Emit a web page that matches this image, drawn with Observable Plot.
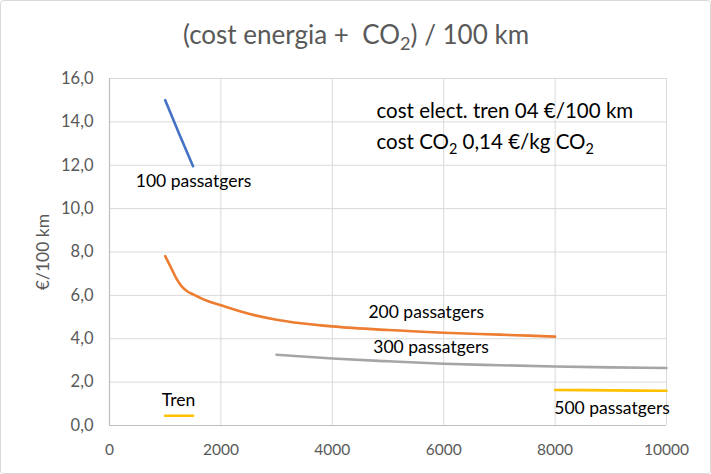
<!DOCTYPE html>
<html>
<head>
<meta charset="utf-8">
<script src="https://cdn.jsdelivr.net/npm/d3@7"></script>
<script src="https://cdn.jsdelivr.net/npm/@observablehq/plot@0.6"></script>
<style>
  body { margin: 0; background: #fff; }
  #chart { width: 711px; height: 474px; }
</style>
</head>
<body>
<div id="chart"></div>
<script>
// ---- data ----
const seriesNames = ["100 passatgers", "200 passatgers", "300 passatgers", "500 passatgers", "Tren"];
const seriesColors = ["#4472C4", "#ED7D31", "#A5A5A5", "#FFC000", "#FFC000"];

const p100X = [1000, 1250, 1500];
const p100Y = [15.0, 13.45, 11.95];

const p200X = [1000, 1100, 1200, 1300, 1400, 1500, 1750, 2000, 2500, 3000, 4000, 5000, 6000, 7000, 8000];
const p200Y = [7.81, 7.3, 6.78, 6.4, 6.18, 6.05, 5.75, 5.54, 5.15, 4.88, 4.57, 4.4, 4.28, 4.19, 4.1];

const p300X = [3000, 4000, 5000, 6000, 7000, 8000, 9000, 10000];
const p300Y = [3.26, 3.09, 2.96, 2.85, 2.78, 2.72, 2.68, 2.65];

const p500X = [8000, 9000, 10000];
const p500Y = [1.64, 1.62, 1.6];

const trenX = [1000, 1500];
const trenY = [0.45, 0.45];

const xTicks = [0, 2000, 4000, 6000, 8000, 10000];
const yTicks = [0, 2, 4, 6, 8, 10, 12, 14, 16];

const titleText = "(cost energia +  CO₂) / 100 km";
const yLabel = "€/100 km";
const noteLines = ["cost elect. tren 04 €/100 km", "cost CO₂ 0,14 €/kg CO₂"];
const noteX = [4793, 4793];
const noteY = [14.5, 13.07];

const labelNames = ["100 passatgers", "200 passatgers", "300 passatgers", "500 passatgers", "Tren"];
const labelX = [1508, 5686, 5772, 9022, 1239];
const labelY = [11.26, 5.23, 3.59, 0.77, 1.15];

// ---- build tables ----
const seriesXs = [p100X, p200X, p300X, p500X, trenX];
const seriesYs = [p100Y, p200Y, p300Y, p500Y, trenY];
const rows = [];
seriesNames.forEach((name, i) => {
  seriesXs[i].forEach((x, j) => rows.push({series: name, x, y: seriesYs[i][j]}));
});
const labels = labelNames.map((t, i) => ({t, x: labelX[i], y: labelY[i]}));
const notes = noteLines.map((t, i) => ({t, x: noteX[i], y: noteY[i]}));

const gridColor = "#d9d9d9";
const textGray = "#595959";

const chart = Plot.plot({
  width: 711,
  height: 474,
  marginLeft: 109,
  marginRight: 45,
  marginTop: 78,
  marginBottom: 49,
  style: {fontFamily: "Lato, 'Open Sans', sans-serif", background: "#fff", overflow: "visible"},
  x: {domain: [0, 10000]},
  y: {domain: [0, 16]},
  color: {domain: seriesNames, range: seriesColors},
  marks: [
    Plot.gridY(yTicks, {stroke: gridColor, strokeOpacity: 1, strokeWidth: 1}),
    Plot.gridX(xTicks, {stroke: gridColor, strokeOpacity: 1, strokeWidth: 1}),
    Plot.ruleY([0], {stroke: "#bfbfbf", strokeWidth: 1.2}),
    Plot.ruleX([0], {stroke: "#bfbfbf", strokeWidth: 1.2}),
    Plot.axisX(xTicks, {tickSize: 0, tickPadding: 18, fontSize: 15.5, color: textGray, label: null, tickFormat: d => String(d)}),
    Plot.axisY(yTicks, {tickSize: 0, tickPadding: 16, fontSize: 16.5, color: textGray, label: null, tickFormat: d => d.toFixed(1).replace(".", ",")}),
    Plot.line(rows, {x: "x", y: "y", z: "series", stroke: "series", strokeWidth: 2.6, curve: "monotone-x"}),
    Plot.text(labels, {x: "x", y: "y", text: "t", fontSize: 17.5, fill: "#000", textAnchor: "middle", lineAnchor: "middle"}),
    Plot.text(notes, {x: "x", y: "y", text: "t", fontSize: 20.5, fill: "#000", textAnchor: "start", lineAnchor: "middle"}),
    Plot.text([titleText], {frameAnchor: "top", dx: -32, dy: -43, fontSize: 26, fill: textGray, textAnchor: "middle", lineAnchor: "middle"}),
    Plot.text([yLabel], {frameAnchor: "left", dx: -66, rotate: -90, fontSize: 17.5, fill: textGray, textAnchor: "middle", lineAnchor: "middle"})
  ]
});

document.getElementById("chart").appendChild(chart);

// subscript rendering for "₂"
d3.select(chart).selectAll("text").each(function() {
  const el = this;
  if (el.querySelector("tspan")) return;
  const s = el.textContent;
  if (!s.includes("₂")) return;
  const parts = s.split("₂");
  el.textContent = "";
  parts.forEach((p, i) => {
    const t = document.createElementNS("http://www.w3.org/2000/svg", "tspan");
    t.textContent = p;
    if (i > 0) t.setAttribute("dy", "-0.245em");
    el.appendChild(t);
    if (i < parts.length - 1) {
      const sub = document.createElementNS("http://www.w3.org/2000/svg", "tspan");
      sub.textContent = "2";
      sub.setAttribute("font-size", "70%");
      sub.setAttribute("dy", "0.35em");
      el.appendChild(sub);
    }
  });
});

// outer chart border
d3.select(chart).append("rect")
  .attr("x", 0.5).attr("y", 0.5).attr("width", 710).attr("height", 473)
  .attr("rx", 3).attr("fill", "none").attr("stroke", "#d9d9d9").attr("stroke-width", 1);
</script>
</body>
</html>
